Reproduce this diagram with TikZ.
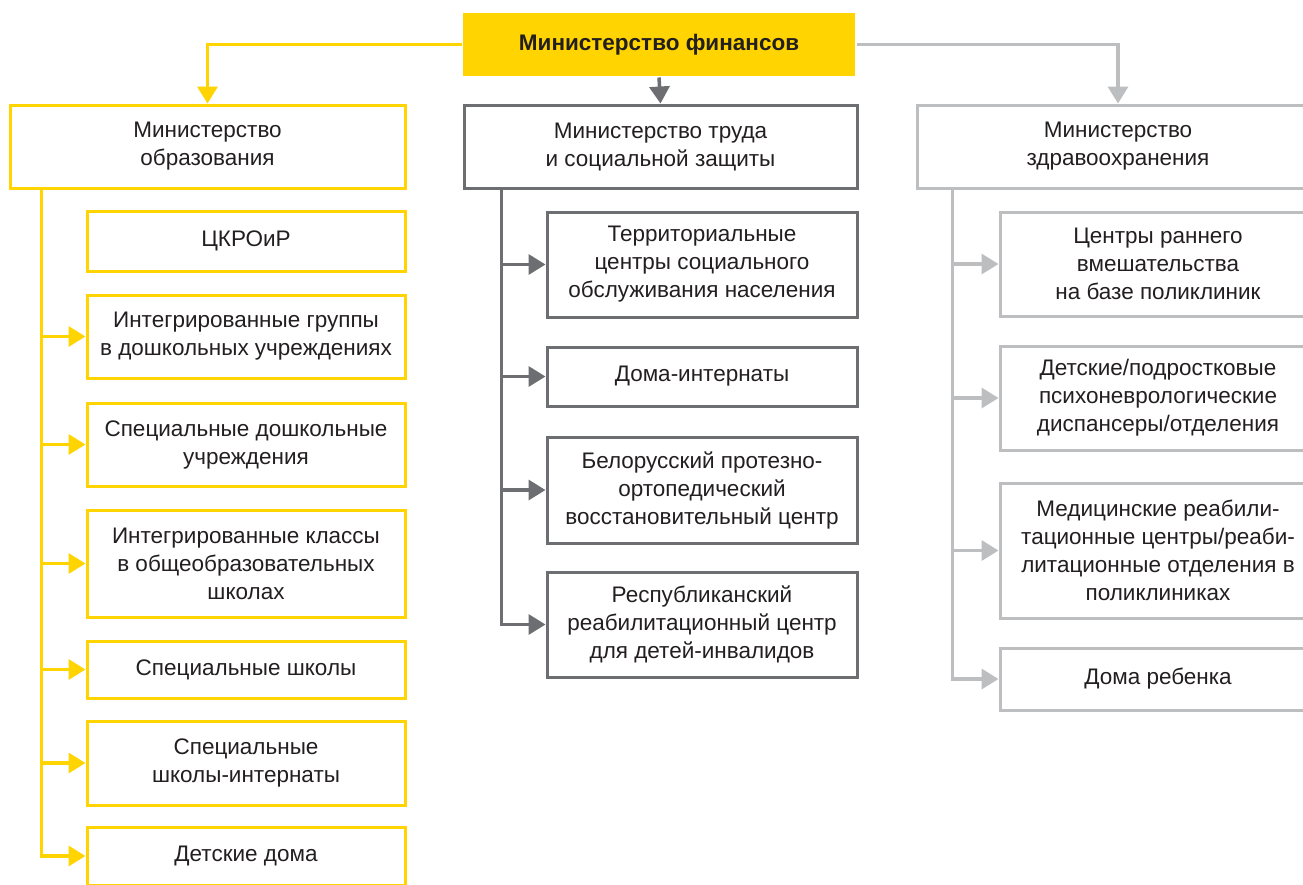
\documentclass[tikz,border=0pt]{standalone}
\usepackage{fontspec}
\setmainfont{Liberation Sans}
\usetikzlibrary{arrows.meta}

\definecolor{finYellow}{RGB}{255,212,0}
\definecolor{labGray}{RGB}{109,110,113}
\definecolor{hlGray}{RGB}{188,190,192}
\definecolor{txtDark}{RGB}{35,31,32}

\tikzstyle{box}=[rectangle,line width=3pt,fill=white,align=center,inner sep=0pt,text=txtDark,font=\fontsize{22.5}{28}\selectfont]
\tikzstyle{eduBox}=[box,draw=finYellow,minimum width=318pt]
\tikzstyle{labBox}=[box,draw=labGray,minimum width=310pt]
\tikzstyle{hlBox}=[box,draw=hlGray,minimum width=316pt]
\tikzstyle{eduArrow}=[-{Triangle[length=17pt,width=20pt]}, line width=3.5pt, finYellow]
\tikzstyle{labArrow}=[-{Triangle[length=17pt,width=20pt]}, line width=3.5pt, labGray]
\tikzstyle{hlArrow}=[-{Triangle[length=17pt,width=20pt]}, line width=3.5pt, hlGray]

\begin{document}
\begin{tikzpicture}[x=1pt,y=-1pt]
		\clip (0,0) rectangle (1303,884);
		\fill[white] (0,0) rectangle (1303,884);

		\node[box,fill=finYellow,minimum width=392pt,minimum height=63pt,font=\fontsize{22.5}{28}\selectfont\bfseries] (fin) at (659,44.5) {Министерство финансов};

		\node[eduBox,minimum width=395pt,minimum height=83pt] (edu) at (207.5,146.5) {Министерство\\образования};
		\node[labBox,minimum width=393pt,minimum height=83pt] (lab) at (660.5,146.5) {Министерство труда\\и социальной защиты};
		\node[hlBox,minimum width=402pt,minimum height=83pt] (hl) at (1118,146.5) {Министерство\\здравоохранения};

		% образование
		\node[eduBox,minimum height=60pt] (e1) at (246,241) {ЦКРОиР};
		\node[eduBox,minimum height=83pt] (e2) at (246,336.5) {Интегрированные группы\\в дошкольных учреждениях};
		\node[eduBox,minimum height=83pt] (e3) at (246,444.5) {Специальные дошкольные\\учреждения};
		\node[eduBox,minimum height=107pt] (e4) at (246,563.5) {Интегрированные классы\\в общеобразовательных\\школах};
		\node[eduBox,minimum height=57pt] (e5) at (246,669.5) {Специальные школы};
		\node[eduBox,minimum height=84pt] (e6) at (246,763) {Специальные\\школы-интернаты};
		\node[eduBox,minimum height=58pt] (e7) at (246,856) {Детские дома};

		% труд и соцзащита
		\node[labBox,minimum height=105pt] (m1) at (702,264.5) {Территориальные\\центры социального\\обслуживания населения};
		\node[labBox,minimum height=59pt] (m2) at (702,376.5) {Дома-интернаты};
		\node[labBox,minimum height=106pt] (m3) at (702,490) {Белорусский протезно-\\ортопедический\\восстановительный центр};
		\node[labBox,minimum height=105pt] (m4) at (702,624.5) {Республиканский\\реабилитационный центр\\для детей-инвалидов};

		% здравоохранение
		\node[hlBox,minimum height=104pt] (h1) at (1158,264) {Центры раннего\\вмешательства\\на базе поликлиник};
		\node[hlBox,minimum height=104pt] (h2) at (1158,398) {Детские/подростковые\\психоневрологические\\диспансеры/отделения};
		\node[hlBox,minimum height=135pt] (h3) at (1158,550.5) {Медицинские реабили-\\тационные центры/реаби-\\литационные отделения в\\поликлиниках};
		\node[hlBox,minimum height=62pt] (h4) at (1158,679) {Дома ребенка};

		\draw[eduArrow] (fin.west) -| (edu.north);
		\draw[labArrow] (fin.south) -- (lab.north);
		\draw[hlArrow] (fin.east) -| (hl.north);

		\coordinate (eduT) at ([xshift=33pt]edu.south west);
		\coordinate (labT) at ([xshift=39pt]lab.south west);
		\coordinate (hlT) at ([xshift=37pt]hl.south west);

		\foreach \n in {e2,e3,e4,e5,e6,e7}
			\draw[eduArrow] (eduT) |- (\n);
		\foreach \n in {m1,m2,m3,m4}
			\draw[labArrow] (labT) |- (\n);
		\foreach \n in {h1,h2,h3,h4}
			\draw[hlArrow] (hlT) |- (\n);
\end{tikzpicture}
\end{document}
